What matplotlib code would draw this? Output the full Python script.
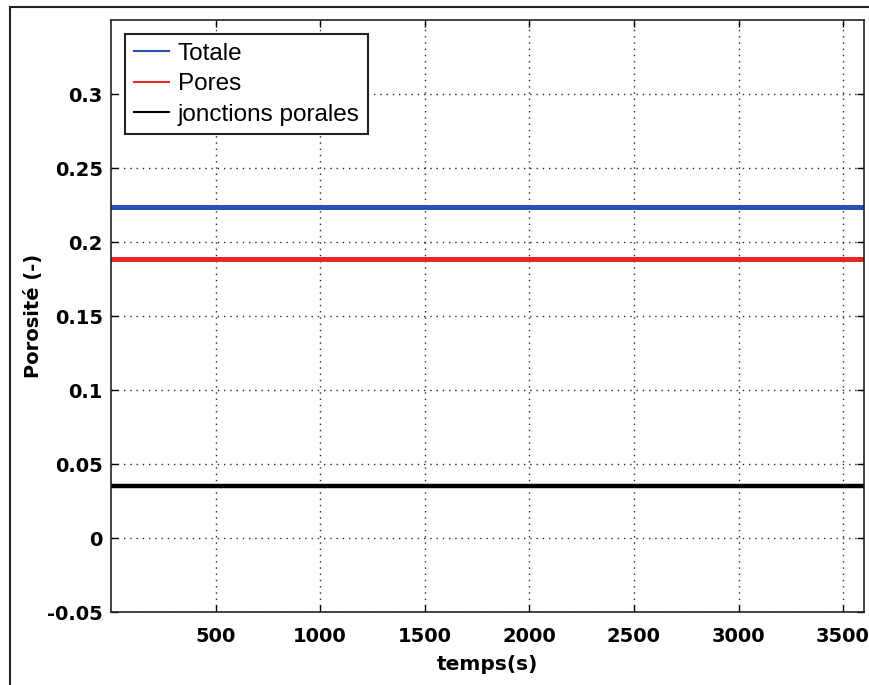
import matplotlib
matplotlib.use("Agg")
import matplotlib.pyplot as plt
from matplotlib.patches import Rectangle

# time span (s) and constant porosity levels
temps = [0, 3600]
totale = [0.2236, 0.2236]
pores = [0.1885, 0.1885]
jonctions = [0.0351, 0.0351]

series_labels = ["Totale", "Pores", "jonctions porales"]
xticks = [500, 1000, 1500, 2000, 2500, 3000, 3500]
yticks = [-0.05, 0, 0.05, 0.1, 0.15, 0.2, 0.25, 0.3]
ytick_labels = ["-0.05", "0", "0.05", "0.1", "0.15", "0.2", "0.25", "0.3"]


def main():
    fig = plt.figure(figsize=(8.69, 6.85), dpi=100)
    ax = fig.add_axes([111 / 869, 1 - 612 / 685, 753 / 869, 592 / 685])

    ax.plot(temps, totale, color="#2b4fb5", lw=3.6, label=series_labels[0])
    ax.plot(temps, pores, color="#e8262a", lw=3.6, label=series_labels[1])
    ax.plot(temps, jonctions, color="black", lw=3.2, label=series_labels[2])

    ax.set_xlim(0, 3600)
    ax.set_ylim(-0.05, 0.35)
    ax.set_xticks(xticks)
    ax.set_yticks(yticks)
    ax.set_yticklabels(ytick_labels)
    ax.grid(True, color="#1c2a3a", linestyle=(0, (1, 3.5)), linewidth=1.0)

    ax.tick_params(direction="in", length=5, width=1, top=True, right=True,
                   labelsize=14, pad=6)
    ax.tick_params(axis="x", pad=11)
    for lbl in ax.get_xticklabels() + ax.get_yticklabels():
        lbl.set_fontweight("bold")
    for sp in ax.spines.values():
        sp.set_linewidth(1.2)
        sp.set_color("#222222")

    ax.set_xlabel("temps(s)", fontsize=14.5, fontweight="bold", labelpad=6)
    ax.set_ylabel("Porosité (-)", fontsize=14, fontweight="bold", labelpad=3)

    leg = ax.legend(loc="upper left", bbox_to_anchor=(0.019, 0.976),
                    prop={"family": "Liberation Sans", "size": 17.5},
                    fancybox=False, framealpha=1, edgecolor="#222222",
                    handlelength=1.45, handletextpad=0.35, labelspacing=0.35,
                    borderpad=0.35, borderaxespad=0)
    leg.get_frame().set_linewidth(1.5)
    for line in leg.get_lines():
        line.set_linewidth(1.5)

    # outer frame of the figure
    fig.patches.append(Rectangle((10 / 869, -0.1), 1.2, 1 - 7 / 685 + 0.1,
                                 transform=fig.transFigure, fill=False,
                                 edgecolor="#222222", linewidth=1.5))

    fig.savefig("out.png", dpi=100)


if __name__ == '__main__':
    main()
